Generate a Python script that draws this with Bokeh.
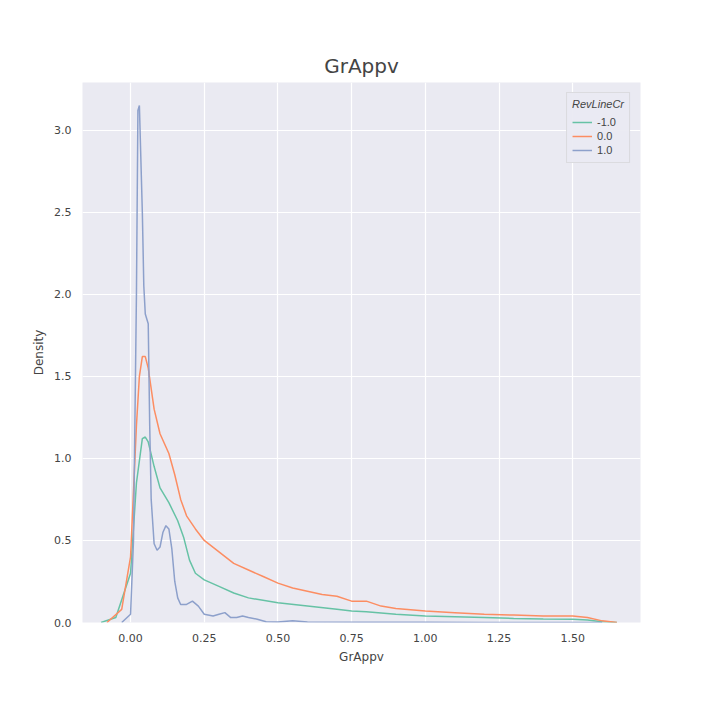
from bokeh.plotting import figure
from bokeh.models import Legend, LegendItem, Label, Range1d
from bokeh.embed import file_html
from bokeh.resources import INLINE

# x in units of 1e6, density in units of 1e-6
neg_x = [-0.10, -0.05, 0.0, 0.02, 0.04, 0.05, 0.06, 0.08, 0.10, 0.13, 0.16, 0.18, 0.20, 0.22, 0.25,
         0.30, 0.35, 0.40, 0.50, 0.60, 0.70, 0.75, 0.80, 0.90, 1.00, 1.10, 1.20, 1.30, 1.40, 1.50,
         1.55, 1.60, 1.65]
neg_y = [0.0, 0.03, 0.30, 0.85, 1.12, 1.13, 1.10, 0.95, 0.82, 0.73, 0.62, 0.52, 0.38, 0.30, 0.26,
         0.22, 0.18, 0.15, 0.12, 0.10, 0.08, 0.07, 0.065, 0.05, 0.04, 0.035, 0.03, 0.025, 0.022, 0.02,
         0.015, 0.005, 0.0]
zero_x = [-0.08, -0.03, 0.0, 0.02, 0.03, 0.04, 0.05, 0.06, 0.08, 0.10, 0.13, 0.15, 0.17, 0.19, 0.22,
          0.25, 0.30, 0.35, 0.40, 0.45, 0.50, 0.55, 0.60, 0.65, 0.70, 0.75, 0.80, 0.85, 0.90, 1.00,
          1.10, 1.20, 1.30, 1.40, 1.50, 1.55, 1.60, 1.65]
zero_y = [0.0, 0.08, 0.40, 1.20, 1.50, 1.62, 1.62, 1.55, 1.30, 1.15, 1.03, 0.90, 0.75, 0.65, 0.57,
          0.50, 0.43, 0.36, 0.32, 0.28, 0.24, 0.21, 0.19, 0.17, 0.16, 0.13, 0.13, 0.10, 0.085, 0.07,
          0.06, 0.05, 0.045, 0.04, 0.04, 0.03, 0.01, 0.0]
one_x = [-0.03, 0.0, 0.01, 0.02, 0.025, 0.03, 0.04, 0.045, 0.05, 0.06, 0.065, 0.07, 0.08, 0.09, 0.10,
         0.11, 0.12, 0.13, 0.14, 0.15, 0.16, 0.17, 0.19, 0.21, 0.23, 0.25, 0.28, 0.30, 0.32, 0.34,
         0.36, 0.38, 0.40, 0.43, 0.46, 0.50, 0.55, 0.60, 0.80, 1.00, 1.20, 1.60]
one_y = [0.0, 0.05, 0.50, 2.00, 3.12, 3.15, 2.50, 2.05, 1.88, 1.82, 1.20, 0.75, 0.48, 0.44, 0.46,
         0.55, 0.59, 0.57, 0.45, 0.25, 0.15, 0.11, 0.11, 0.13, 0.10, 0.05, 0.04, 0.05, 0.06, 0.03,
         0.03, 0.04, 0.03, 0.02, 0.005, 0.003, 0.01, 0.003, 0.002, 0.001, 0.0005, 0.0]

x_ticks = [0.0, 0.25, 0.5, 0.75, 1.0, 1.25, 1.5]
y_ticks = [0.0, 0.5, 1.0, 1.5, 2.0, 2.5, 3.0]

p = figure(width=704, height=704, output_backend="svg", toolbar_location=None,
           x_range=Range1d(-0.163, 1.73), y_range=Range1d(0, 3.29),
           min_border_left=82, min_border_right=64, min_border_top=82, min_border_bottom=82,
           title="GrAppv", x_axis_label="GrAppv", y_axis_label="Density")
p.title.align = "center"
p.title.text_font_size = "20px"
p.title.text_font_style = "normal"
p.title.text_font = "DejaVu Sans"
p.background_fill_color = "#eaeaf2"
p.outline_line_color = None
for ax in (p.xaxis[0], p.yaxis[0]):
    ax.axis_line_color = None
    ax.major_tick_line_color = None
    ax.minor_tick_line_color = None
    ax.major_label_text_font_size = "11px"
    ax.axis_label_text_font_size = "12px"
    ax.axis_label_text_font_style = "normal"
    ax.major_label_text_font = "DejaVu Sans"
    ax.axis_label_text_font = "DejaVu Sans"
p.xaxis.ticker = x_ticks
p.yaxis.ticker = y_ticks
p.xaxis.major_label_overrides = {t: f"{t:.2f}" for t in x_ticks}
p.yaxis.major_label_overrides = {t: f"{t:.1f}" for t in y_ticks}
p.grid.grid_line_color = "white"
p.grid.grid_line_width = 1.2

r1 = p.line(neg_x, neg_y, color="#66c2a5", line_width=1.5)
r2 = p.line(zero_x, zero_y, color="#fc8d62", line_width=1.5)
r3 = p.line(one_x, one_y, color="#8da0cb", line_width=1.5)

legend = Legend(items=[LegendItem(label="-1.0", renderers=[r1]),
                       LegendItem(label="0.0", renderers=[r2]),
                       LegendItem(label="1.0", renderers=[r3])],
                location="top_right", title="RevLineCr")
legend.title_text_font_size = "11px"
legend.label_text_font_size = "11px"
legend.glyph_height = 14
legend.label_height = 14
legend.spacing = 0
legend.padding = 5
legend.background_fill_color = "#eaeaf2"
legend.border_line_color = "#cccccc"
p.add_layout(legend)

p.add_layout(Label(x=0, y=0, x_units="screen", y_units="screen", x_offset=-30, y_offset=543,
                   text="1e-6", text_font_size="11px"))
p.add_layout(Label(x=1.73, y=0, x_units="data", y_units="screen", x_offset=-18, y_offset=-38,
                   text="1e6", text_font_size="11px"))

open("out.html", "w").write(file_html(p, INLINE))
